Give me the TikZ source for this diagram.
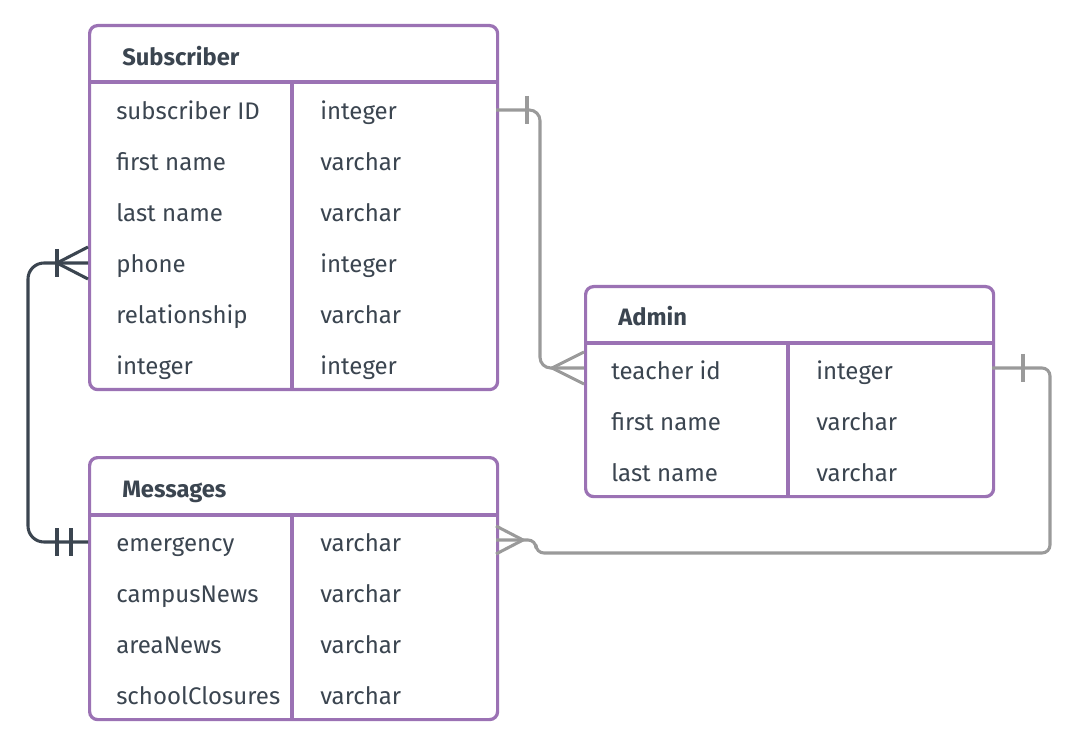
\documentclass[tikz,border=0pt]{standalone}
\usepackage{fontspec}
\setmainfont{Fira Sans}
\definecolor{pur}{HTML}{9B72B4}
\definecolor{ink}{HTML}{3B4550}
\definecolor{gry}{HTML}{9A9A9A}
\begin{document}
\begin{tikzpicture}[x=0.75pt,y=-0.75pt,
  tbl/.style={draw=pur,line width=2.4pt,rounded corners=6pt,fill=white,anchor=north west,inner sep=0pt},
  sep/.style={draw=pur,line width=2.4pt},
  fld/.style={anchor=mid west,inner sep=0pt,text=ink,yshift=-4.5pt,font=\fontsize{18}{21}\selectfont},
  ttl/.style={anchor=mid west,inner sep=0pt,text=ink,yshift=-4.5pt,font=\fontsize{17.8}{21}\selectfont\bfseries},
  relk/.style={draw=ink,line width=2.3pt},
  relg/.style={draw=gry,line width=2.3pt}]
\useasboundingbox (0,0) rectangle (1074,748);
% Subscriber
\node[tbl,minimum width=408*0.75pt,minimum height=364*0.75pt] (sub) at (88,24) {};
\draw[sep] (88,82) -- (496,82);
\draw[sep] (292,82) -- (292,388);
\node[ttl] (subt) at (122,56) {Subscriber};
\node[fld] (s1a) at (116,110) {subscriber ID}; \node[fld] (s1b) at (320,110) {integer};
\node[fld] (s2a) at (116,161) {first name};    \node[fld] (s2b) at (320,161) {varchar};
\node[fld] (s3a) at (116,212) {last name};     \node[fld] (s3b) at (320,212) {varchar};
\node[fld] (s4a) at (116,263) {phone};         \node[fld] (s4b) at (320,263) {integer};
\node[fld] (s5a) at (116,314) {relationship};  \node[fld] (s5b) at (320,314) {varchar};
\node[fld] (s6a) at (116,365) {integer};       \node[fld] (s6b) at (320,365) {integer};
% Admin
\node[tbl,minimum width=408*0.75pt,minimum height=210*0.75pt] (adm) at (584,285) {};
\draw[sep] (584,343) -- (992,343);
\draw[sep] (788,343) -- (788,495);
\node[ttl] (admt) at (618,316) {Admin};
\node[fld] (a1a) at (611,370) {teacher id}; \node[fld] (a1b) at (816,370) {integer};
\node[fld] (a2a) at (611,421) {first name}; \node[fld] (a2b) at (816,421) {varchar};
\node[fld] (a3a) at (611,472) {last name};  \node[fld] (a3b) at (816,472) {varchar};
% Messages
\node[tbl,minimum width=408*0.75pt,minimum height=262*0.75pt] (msg) at (88,456) {};
\draw[sep] (88,515) -- (496,515);
\draw[sep] (292,515) -- (292,718);
\node[ttl] (msgt) at (122,488) {Messages};
\node[fld] (m1a) at (116,542) {emergency};      \node[fld] (m1b) at (320,542) {varchar};
\node[fld] (m2a) at (116,593) {campusNews};     \node[fld] (m2b) at (320,593) {varchar};
\node[fld] (m3a) at (116,644) {areaNews};       \node[fld] (m3b) at (320,644) {varchar};
\node[fld] (m4a) at (116,695) {schoolClosures}; \node[fld] (m4b) at (320,695) {varchar};
% connection points
\coordinate (pS4) at (88,263);
\coordinate (pM1) at (88,542);
\coordinate (pS1) at (496,110);
\coordinate (pA1) at (584,368);
\coordinate (pA1r) at (992,368);
\coordinate (pM1r) at (496,540);
% Subscriber.phone -- Messages.emergency
\draw[relk,rounded corners=12pt] (pS4) -- (28,263) -- (28,542) -- (pM1);
\draw[relk] (57,249) -- (57,277);
\draw[relk] (pS4) ++(0,-16) -- (57,263) -- (88,279);
\draw[relk] (57,528) -- (57,556);
\draw[relk] (71,528) -- (71,556);
% Subscriber.ID -- Admin.teacher id
\draw[relg,rounded corners=8pt] (pS1) -- (540,110) -- (540,368) -- (pA1);
\draw[relg] (527,96) -- (527,124);
\draw[relg] (584,352) -- (552,368) -- (584,384);
% Admin.teacher id -- Messages.emergency
\draw[relg,rounded corners=6pt] (pA1r) -- (1050,368) -- (1050,553) -- (536,553) -- (536,540) -- (pM1r);
\draw[relg] (1023,354) -- (1023,382);
\draw[relg] (496,526) -- (523,540) -- (496,554);
\end{tikzpicture}
\end{document}
